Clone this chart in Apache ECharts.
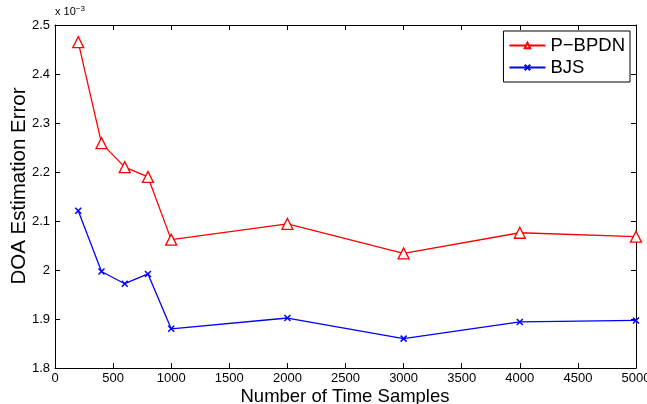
<!DOCTYPE html>
<html>
<head>
<meta charset="utf-8">
<script src="https://cdn.jsdelivr.net/npm/echarts@6/dist/echarts.min.js"></script>
<style>
  html, body { margin: 0; padding: 0; background: #fff; }
  #chart { width: 647px; height: 404px; }
</style>
</head>
<body>
<div id="chart"></div>
<script>
// samples on the x axis
var samples = [200, 400, 600, 800, 1000, 2000, 3000, 4000, 5000];
// errors, in units of 1e-3
var pbpdn = [2.465, 2.259, 2.210, 2.190, 2.062, 2.094, 2.034, 2.076, 2.068];
var bjs = [2.121, 1.997, 1.972, 1.992, 1.880, 1.902, 1.860, 1.894, 1.897];
var seriesNames = ['P\u2212BPDN', 'BJS'];

var font = 'Liberation Sans, Arial, sans-serif';
var chart = echarts.init(document.getElementById('chart'));

function pairs(ys) {
  return samples.map(function (x, i) { return [x, ys[i]]; });
}

var boxAxis = {
  axisLine: { show: true, onZero: false, lineStyle: { color: '#000', width: 1 } },
  axisTick: { show: true, inside: true, length: 5, lineStyle: { color: '#000' } },
  splitLine: { show: false },
  axisLabel: { show: false }
};

var option = {
  animation: false,
  backgroundColor: '#fff',
  grid: { left: 55, right: 11, top: 25, bottom: 36, containLabel: false, outerBoundsMode: 'none' },
  legend: {
    right: 17, top: 31,
    orient: 'vertical',
    backgroundColor: '#fff',
    borderColor: '#000',
    borderWidth: 1,
    padding: [5, 5, 5, 5],
    itemGap: 3,
    itemWidth: 36,
    itemHeight: 7,
    textStyle: { fontFamily: font, fontSize: 18.5, color: '#000' },
    data: seriesNames
  },
  graphic: [
    {
      type: 'text', left: 55, top: 5,
      style: {
        text: '{a|x 10}{b|\u22123}',
        rich: {
          a: { fontFamily: font, fontSize: 11, fill: '#000' },
          b: { fontFamily: font, fontSize: 8, fill: '#000', verticalAlign: 'top', padding: [0, 0, 6, 0] }
        }
      }
    },
    {
      type: 'text', x: 19, y: 186, rotation: Math.PI / 2,
      style: {
        text: 'DOA Estimation Error', fontFamily: font, fontSize: 20.5, fill: '#000',
        align: 'center', verticalAlign: 'middle'
      }
    },
    {
      type: 'text', x: 345, y: 397,
      style: {
        text: 'Number of Time Samples', fontFamily: font, fontSize: 18.5, fill: '#000',
        align: 'center', verticalAlign: 'middle'
      }
    }
  ],
  xAxis: [
    Object.assign({}, boxAxis, {
      type: 'value', min: 0, max: 5000, interval: 500, position: 'bottom',
      axisLabel: {
        show: true, fontFamily: font, fontSize: 13, color: '#000', margin: 4,
        formatter: function (v) { return String(v); }
      }
    }),
    Object.assign({}, boxAxis, { type: 'value', min: 0, max: 5000, interval: 500, position: 'top' })
  ],
  yAxis: [
    Object.assign({}, boxAxis, {
      type: 'value', min: 1.8, max: 2.5, interval: 0.1, position: 'left',
      axisLabel: {
        show: true, fontFamily: font, fontSize: 13, color: '#000', margin: 5,
        formatter: function (v) { return String(+v.toFixed(1)); }
      }
    }),
    Object.assign({}, boxAxis, { type: 'value', min: 1.8, max: 2.5, interval: 0.1, position: 'right' })
  ],
  series: [
    {
      name: seriesNames[0], type: 'line', xAxisIndex: 0, yAxisIndex: 0,
      data: pairs(pbpdn),
      symbol: 'triangle', symbolSize: 11, showAllSymbol: true,
      lineStyle: { color: '#ff0000', width: 1.3 },
      itemStyle: { color: '#fff', borderColor: '#ff0000', borderWidth: 1.3 }
    },
    {
      name: seriesNames[1], type: 'line', xAxisIndex: 0, yAxisIndex: 0,
      data: pairs(bjs),
      symbol: 'path://M0,0L10,10M10,0L0,10', symbolSize: 6, showAllSymbol: true,
      lineStyle: { color: '#0000ff', width: 1.3 },
      itemStyle: { color: 'none', borderColor: '#0000ff', borderWidth: 1.5 }
    }
  ]
};

chart.setOption(option);
</script>
</body>
</html>
